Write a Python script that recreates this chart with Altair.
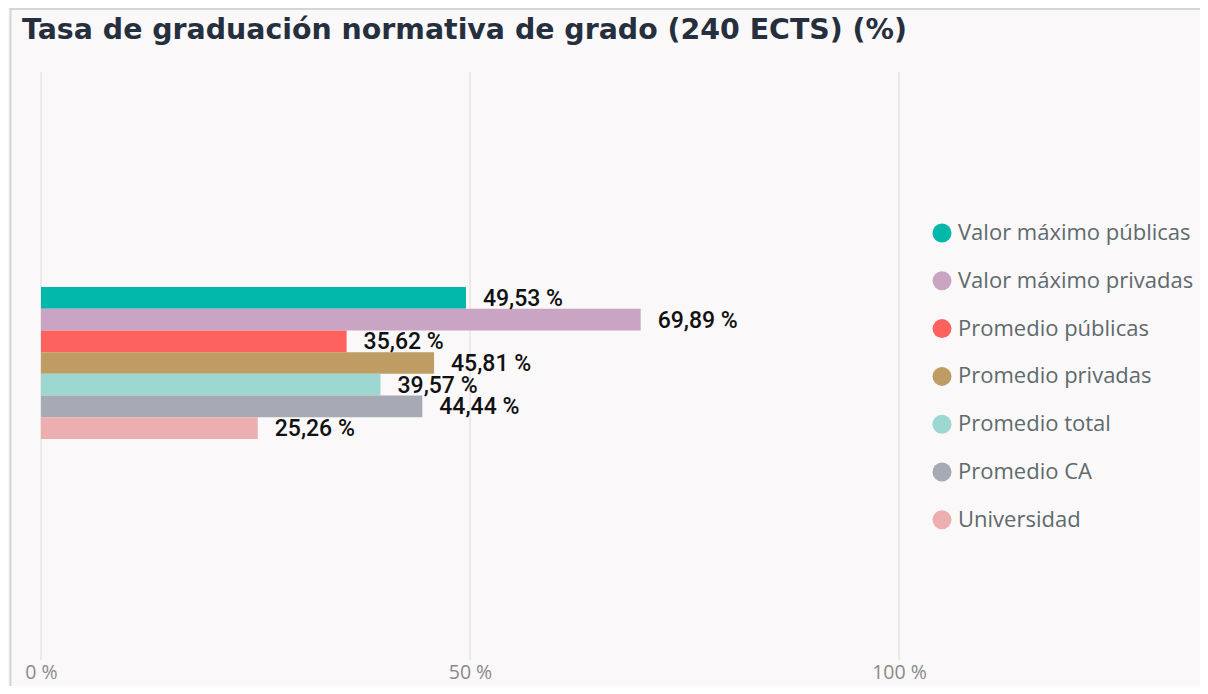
import altair as alt
import pandas as pd

series = ["Valor máximo públicas", "Valor máximo privadas", "Promedio públicas",
          "Promedio privadas", "Promedio total", "Promedio CA", "Universidad"]
values = [49.53, 69.89, 35.62, 45.81, 39.57, 44.44, 25.26]
colors = ["#01B8AA", "#C9A5C3", "#FD625E", "#BF9C63", "#9DD7D1", "#A6AAB4", "#EDAEAF"]
x_ticks = [0, 50, 100]

df = pd.DataFrame({"serie": series, "valor": values})
ticks_df = pd.DataFrame({"t": x_ticks})
frame_df = pd.DataFrame({"k": [0]})

xscale = alt.Scale(domain=[0, 100], nice=False)

grid = alt.Chart(ticks_df).mark_rule(color="#E4E3E4", strokeWidth=1.5).encode(
    x=alt.X("t:Q", scale=xscale, title=None,
            axis=alt.Axis(values=x_ticks, labelExpr="datum.value + ' %'",
                          grid=False, domain=False, ticks=False, labelPadding=3,
                          labelFlush=False,
                          labelFont="Open Sans", labelFontSize=19.5,
                          labelColor="#8A8A8A")),
)

# decorative card frame (left and top edges)
frame_left = alt.Chart(frame_df).mark_rule(color="#D5D5D5", strokeWidth=2).encode(
    x=alt.value(-30.5), y=alt.value(-64), y2=alt.value(614))
frame_top = alt.Chart(frame_df).mark_rule(color="#D5D5D5", strokeWidth=2).encode(
    x=alt.value(-31.5), x2=alt.value(1159), y=alt.value(-63))

base = alt.Chart(df).encode(
    y=alt.Y("serie:N", sort=series, axis=None,
            scale=alt.Scale(paddingInner=0, paddingOuter=0, range=[215, 367])),
)

bars = base.mark_bar(cornerRadius=0).encode(
    x=alt.X("valor:Q", scale=xscale),
    color=alt.Color("serie:N", sort=series,
                    scale=alt.Scale(domain=series, range=colors),
                    legend=alt.Legend(title=None, orient="none", legendX=890, legendY=150,
                                      symbolType="circle", symbolSize=361,
                                      symbolStrokeWidth=0, labelFont="Open Sans",
                                      labelFontSize=22, labelColor="#5E6A6C",
                                      labelOffset=5, rowPadding=25.8, labelLimit=400)),
)

labels = base.mark_text(align="left", baseline="middle", dx=17, dy=1,
                        font="Roboto", fontSize=23, fontWeight=500,
                        color="#111111").encode(
    x=alt.X("valor:Q", scale=xscale),
    text=alt.Text("lbl:N"),
).transform_calculate(
    lbl="replace(format(datum.valor, '.2f'), '.', ',') + ' %'"
)

chart = alt.layer(frame_left, frame_top, grid, bars, labels).properties(
    width=858, height=588,
    title=alt.TitleParams(
        "Tasa de graduación normativa de grado (240 ECTS) (%)",
        anchor="start", frame="group", dx=-19, offset=-60, baseline="alphabetic",
        font="DejaVu Sans", fontSize=28.4, fontWeight="bold", color="#252F3E"),
    autosize=alt.AutoSizeParams(type="none"),
    padding={"left": 33, "top": 64, "right": 301, "bottom": 26},
).configure(background="#FAF8F9").configure_view(stroke=None)

chart.save("out.html", embed_options={"renderer": "svg", "actions": False})
